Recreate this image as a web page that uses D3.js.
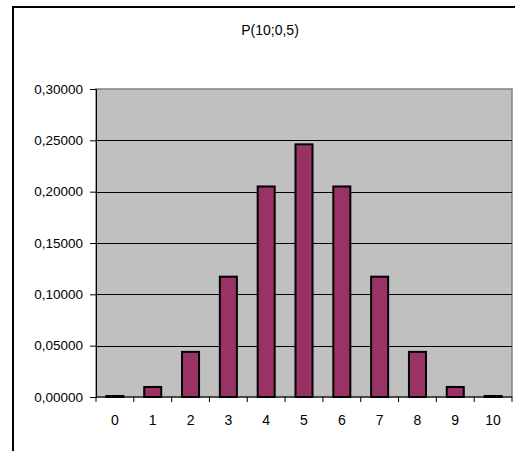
<!DOCTYPE html>
<html><head><meta charset="utf-8">
<script src="https://cdn.jsdelivr.net/npm/d3@7"></script>
<style>body{margin:0;background:#fff}svg{display:block;font-family:"Liberation Sans",Arial,sans-serif}</style>
</head><body><svg id="c" width="515" height="451"></svg>
<script>
const title = "P(10;0,5)";
const categories = ["0","1","2","3","4","5","6","7","8","9","10"];
const values = [0.000977,0.009766,0.043945,0.117188,0.205078,0.246094,0.205078,0.117188,0.043945,0.009766,0.000977];
const yTicks = [0,0.05,0.10,0.15,0.20,0.25,0.30];

const svg = d3.select("#c");
const W = 515, H = 451;
const m = {left:96, top:89, right:512, bottom:397};
svg.append("rect").attr("width",W).attr("height",H).attr("fill","#fff");
// outer chart frame (extends past window)
svg.append("rect").attr("x",13).attr("y",7).attr("width",600).attr("height",600)
  .attr("fill","none").attr("stroke","#000").attr("stroke-width",2);

const x = d3.scaleBand().domain(categories).range([m.left,m.right]).paddingInner(0.55).paddingOuter(0.275);
const xb = d3.scaleBand().domain(categories).range([m.left,m.right]);
const y = d3.scaleLinear().domain([0,0.30]).range([m.bottom,m.top]);
const loc = d3.formatLocale({decimal:",",thousands:".",grouping:[3],currency:["",""]});
const fmt = loc.format(".5f");

svg.append("rect").attr("x",m.left).attr("y",m.top).attr("width",m.right-m.left).attr("height",m.bottom-m.top)
  .attr("fill","#c0c0c0").attr("stroke","#808080").attr("stroke-width",1.5);

svg.append("g").selectAll("line").data(yTicks.filter(d=>d>0 && d<0.30)).join("line")
  .attr("x1",m.left).attr("x2",m.right).attr("y1",d=>Math.round(y(d))+0.5).attr("y2",d=>Math.round(y(d))+0.5)
  .attr("stroke","#000").attr("stroke-width",1);

svg.append("g").selectAll("rect").data(values).join("rect")
  .attr("x",(d,i)=>x(categories[i])).attr("width",x.bandwidth())
  .attr("y",d=>y(d)).attr("height",d=>m.bottom-y(d))
  .attr("fill","#993366").attr("stroke","#000").attr("stroke-width",2);

// y axis
const ya = svg.append("g").attr("transform",`translate(${m.left},0)`)
  .call(d3.axisLeft(y).tickValues(yTicks).tickFormat(fmt).tickSize(6).tickPadding(7));
ya.select(".domain").attr("stroke","#000");
ya.selectAll("text").attr("font-size",13.5).attr("fill","#000").attr("font-family","Liberation Sans, Arial, sans-serif");

// x axis
const xg = svg.append("g").attr("transform",`translate(0,${m.bottom})`);
xg.append("line").attr("x1",m.left).attr("x2",m.right).attr("stroke","#000");
const bounds = categories.map(c=>xb(c)).concat([m.right]);
xg.selectAll("line.t").data(bounds).join("line").attr("class","t")
  .attr("x1",d=>d).attr("x2",d=>d).attr("y1",0).attr("y2",5).attr("stroke","#000");
xg.selectAll("text").data(categories).join("text")
  .attr("x",d=>xb(d)+xb.bandwidth()/2).attr("y",28).attr("text-anchor","middle")
  .attr("font-size",14).text(d=>d);

svg.append("text").attr("x",270).attr("y",35).attr("text-anchor","middle").attr("font-size",14).text(title);
</script></body></html>
